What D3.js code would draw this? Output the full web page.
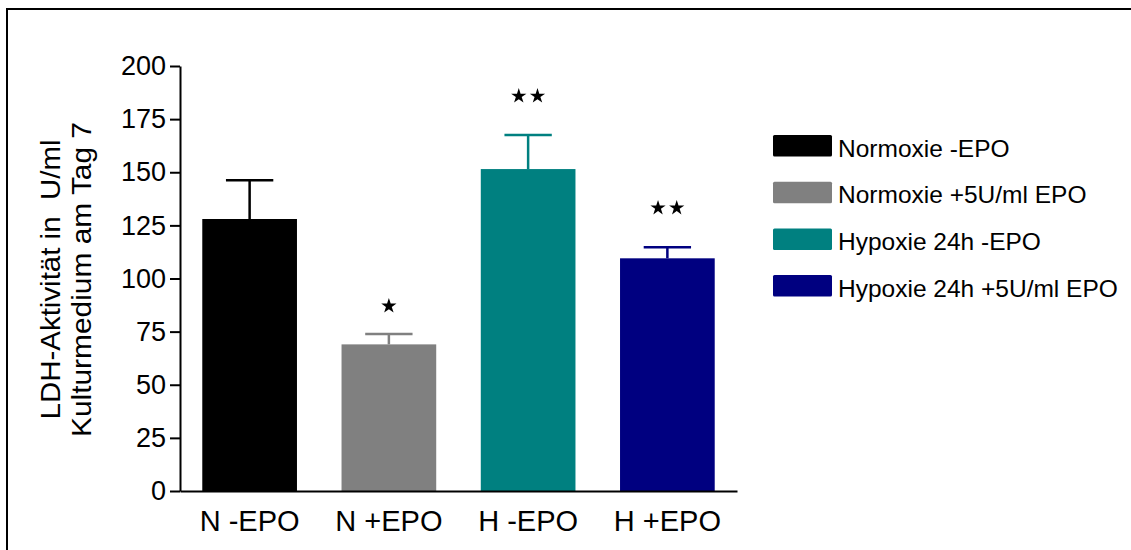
<!DOCTYPE html>
<html>
<head>
<meta charset="utf-8">
<script src="https://cdn.jsdelivr.net/npm/d3@7"></script>
<style>
  html, body { margin: 0; padding: 0; background: #fff; }
  svg { display: block; }
  text { font-family: "Liberation Sans", Arial, Helvetica, sans-serif; fill: #000; }
</style>
</head>
<body>
<svg id="chart" width="1131" height="550"></svg>
<script>
const categories = ["N -EPO", "N +EPO", "H -EPO", "H +EPO"];
const means = [128, 69, 151.5, 109.5];
const sems = [18.2, 4.9, 16, 5.2];
const colors = ["#000000", "#808080", "#008080", "#000080"];
const legendLabels = ["Normoxie -EPO", "Normoxie +5U/ml EPO", "Hypoxie 24h -EPO", "Hypoxie 24h +5U/ml EPO"];
const starCounts = [0, 1, 2, 2];
const starLevels = [null, 87.4, 186.2, 133.6];
const yTicks = [0, 25, 50, 75, 100, 125, 150, 175, 200];
const yTitleLines = ["LDH-Aktivität in  U/ml", "Kulturmedium am Tag 7"];

const svg = d3.select("#chart");

// frame
svg.append("path")
  .attr("d", "M7,552 L7,9 L1133,9")
  .attr("fill", "none").attr("stroke", "#000").attr("stroke-width", 2);

const x = d3.scaleBand().domain(categories).range([180, 737]).paddingInner(0.32).paddingOuter(0.16);
const y = d3.scaleLinear().domain([0, 200]).range([491, 66]);

// bars
svg.append("g").selectAll("rect").data(categories).join("rect")
  .attr("x", d => x(d))
  .attr("width", x.bandwidth())
  .attr("y", (d, i) => y(means[i]))
  .attr("height", (d, i) => y(0) - y(means[i]))
  .attr("fill", (d, i) => colors[i]);

// error bars
const eb = svg.append("g");
categories.forEach((c, i) => {
  const cx = x(c) + x.bandwidth() / 2;
  const top = y(means[i] + sems[i]);
  eb.append("line").attr("x1", cx).attr("x2", cx).attr("y1", y(means[i])).attr("y2", top)
    .attr("stroke", colors[i]).attr("stroke-width", 2.5);
  eb.append("line").attr("x1", cx - x.bandwidth() / 4).attr("x2", cx + x.bandwidth() / 4)
    .attr("y1", top).attr("y2", top)
    .attr("stroke", colors[i]).attr("stroke-width", 2.5);
});

// stars
const starPath = d3.symbol(d3.symbolStar, 72)();
categories.forEach((c, i) => {
  const n = starCounts[i];
  if (!n) return;
  const cx = x(c) + x.bandwidth() / 2;
  for (let k = 0; k < n; k++) {
    const sx = cx + (k - (n - 1) / 2) * 18.7;
    svg.append("path").attr("d", starPath)
      .attr("transform", `translate(${sx},${y(starLevels[i]) + 0.8})`)
      .attr("fill", "#000");
  }
});

// y axis
const yAxis = svg.append("g").attr("transform", "translate(180,0)")
  .call(d3.axisLeft(y).tickValues(yTicks).tickSize(10).tickPadding(4).tickSizeOuter(0));
yAxis.select(".domain").attr("stroke", "#000").attr("stroke-width", 2);
yAxis.selectAll(".tick line").attr("stroke", "#000").attr("stroke-width", 2);
yAxis.selectAll(".tick text").attr("font-size", 27).attr("font-family", "Liberation Sans, Arial, sans-serif").attr("fill", "#000");

// x axis
const xAxis = svg.append("g").attr("transform", "translate(0,491)")
  .call(d3.axisBottom(x).tickSize(0).tickPadding(10).tickSizeOuter(0));
xAxis.select(".domain").attr("stroke", "#000").attr("stroke-width", 2);
xAxis.selectAll(".tick text").attr("font-size", 29).attr("dy", null).attr("y", 40)
  .attr("font-family", "Liberation Sans, Arial, sans-serif").attr("fill", "#000");

// y title
const yMid = (y(0) + y(200)) / 2 + 1;
const titleLengths = [280, 315];
const titleBaselines = [60, 91];
yTitleLines.forEach((t, i) => {
  svg.append("text")
    .attr("transform", `translate(${titleBaselines[i]},${yMid}) rotate(-90)`)
    .attr("text-anchor", "middle")
    .attr("font-size", 28)
    .attr("textLength", titleLengths[i])
    .attr("lengthAdjust", "spacingAndGlyphs")
    .style("white-space", "pre")
    .text(t);
});

// legend
const lg = svg.append("g");
legendLabels.forEach((l, i) => {
  const ty = 135 + i * 46.7;
  lg.append("rect").attr("x", 773).attr("y", ty).attr("width", 59).attr("height", 21.5)
    .attr("rx", 1.5).attr("fill", colors[i]);
  lg.append("text").attr("x", 838).attr("y", ty + 21.5).attr("font-size", 24.5).text(l);
});
</script>
</body>
</html>
